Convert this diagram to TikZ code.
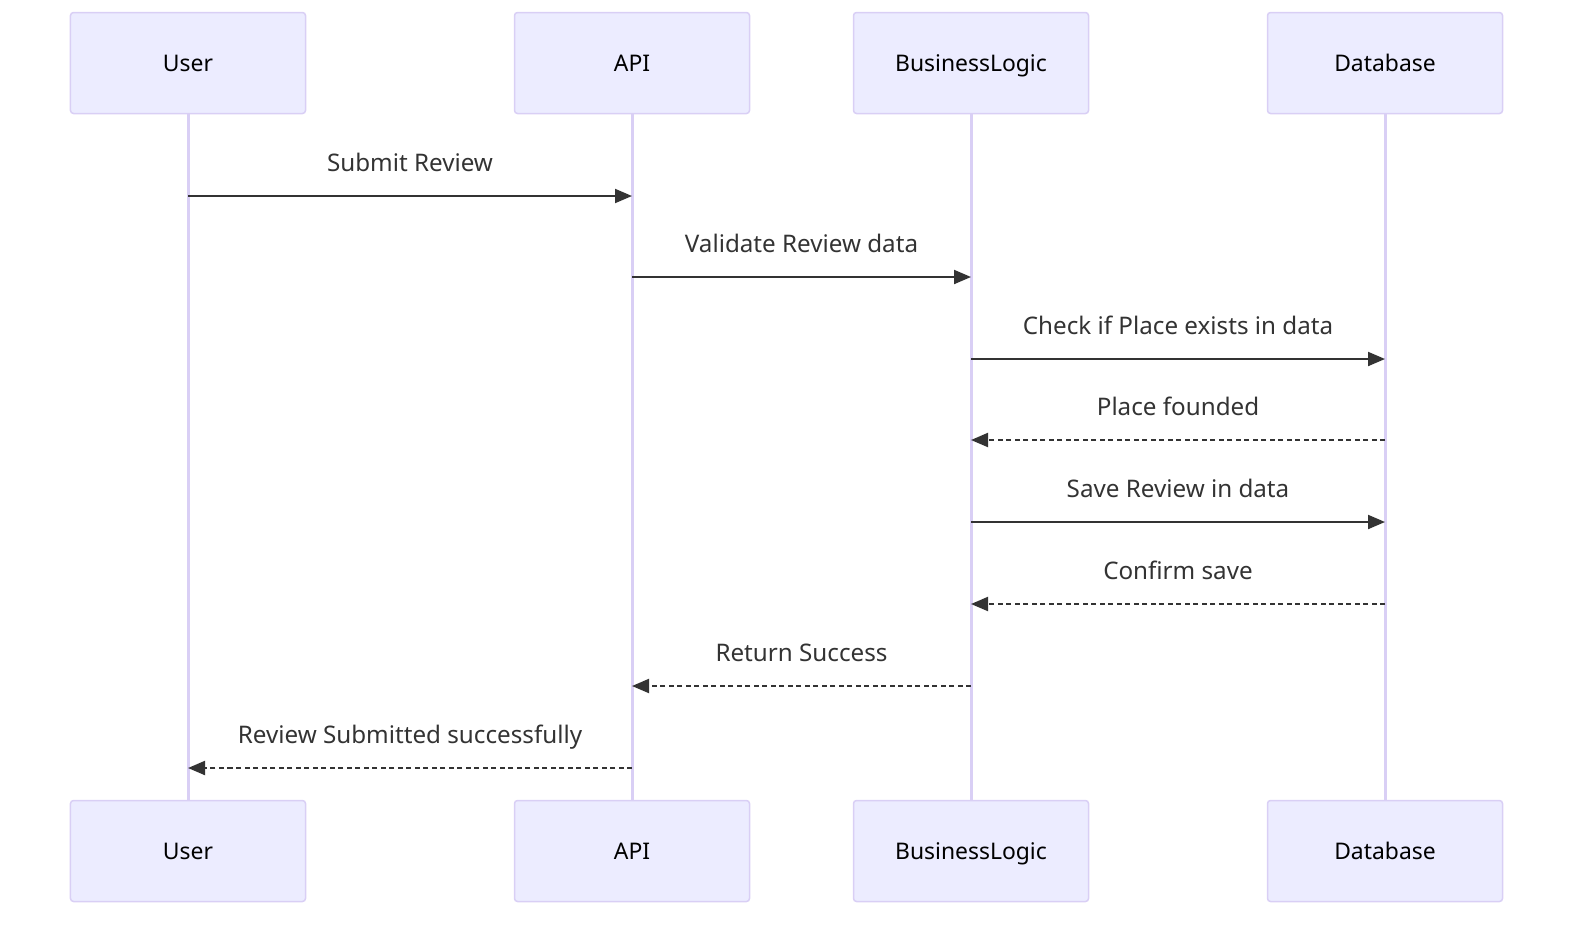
\documentclass[tikz,border=0pt]{standalone}
\usepackage{fontspec}
\setmainfont{Noto Sans}
\usetikzlibrary{arrows.meta}
\definecolor{actorfill}{HTML}{ECECFF}
\definecolor{actorline}{HTML}{D9CFF5}
\definecolor{msgline}{HTML}{333333}

\begin{document}
\begin{tikzpicture}
	[x=1bp,y=-1bp,
	actor/.style={draw=actorline,fill=actorfill,line width=1.5bp,rounded corners=3bp,minimum width=235bp,minimum height=101bp,text height=22bp,text depth=5bp,font=\fontsize{22.9bp}{27bp}\selectfont},
	life/.style={actorline,line width=3bp},
	msg/.style={msgline,line width=2bp,-{Triangle[length=17bp,width=14bp]}},
	reply/.style={msg,dash pattern=on 5bp off 3.5bp},
	lbl/.style={font=\fontsize{24.2bp}{28bp}\selectfont,text=msgline,anchor=base,yshift=25bp}]
	\useasboundingbox (0,0) rectangle (1579,925);
	\node[actor] (u) at (188,63) {User};
	\node[actor] (a) at (632,63) {API};
	\node[actor] (b) at (971,63) {BusinessLogic};
	\node[actor] (d) at (1385,63) {Database};
	
	\node[actor] (ub) at (188,851) {User};
	\node[actor] (ab) at (632,851) {API};
	\node[actor] (bb) at (971,851) {BusinessLogic};
	\node[actor] (db) at (1385,851) {Database};
	\foreach \n in {u,a,b,d}
	\draw[life] (\n.south) -- (\n b.north);
	
	\foreach \from/\to/\y/\kind/\txt in {u/a/196/msg/Submit Review, a/b/277/msg/Validate Review data, b/d/359/msg/Check if Place exists in data, d/b/440/reply/Place founded, b/d/522/msg/Save Review in data, d/b/604/reply/Confirm save, b/a/686/reply/Return Success, a/u/768/reply/Review Submitted successfully}
	\draw[\kind] (\from |- 0,\y) -- (\to |- 0,\y) node[lbl,midway] {\txt};
\end{tikzpicture}
\end{document}
